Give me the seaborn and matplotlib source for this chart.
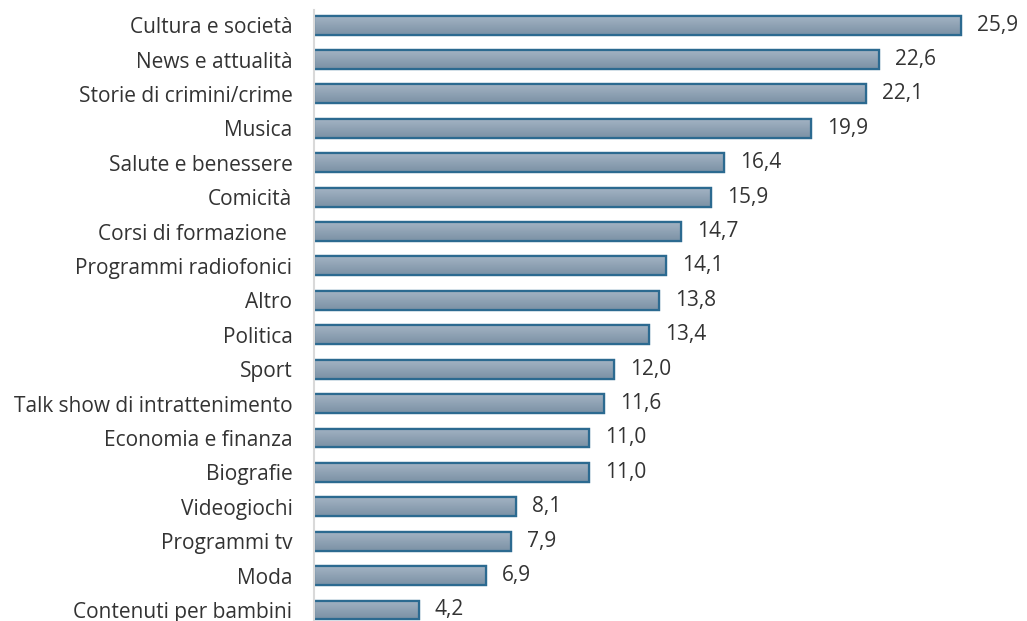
import numpy as np
import pandas as pd
import matplotlib
matplotlib.use("Agg")
import matplotlib.pyplot as plt
import seaborn as sns

categorie = [
    "Cultura e società", "News e attualità", "Storie di crimini/crime", "Musica",
    "Salute e benessere", "Comicità", "Corsi di formazione ", "Programmi radiofonici",
    "Altro", "Politica", "Sport", "Talk show di intrattenimento",
    "Economia e finanza", "Biografie", "Videogiochi", "Programmi tv", "Moda",
    "Contenuti per bambini",
]
valori = [25.9, 22.6, 22.1, 19.9, 16.4, 15.9, 14.7, 14.1, 13.8, 13.4, 12.0, 11.6,
          11.0, 11.0, 8.1, 7.9, 6.9, 4.2]

df = pd.DataFrame({"categoria": categorie, "valore": valori})

sns.set_theme(style="white")
plt.rcParams["font.family"] = ["Open Sans", "DejaVu Sans"]

W, H = 1027, 621
fig = plt.figure(figsize=(W / 100, H / 100), dpi=100)
ax = fig.add_axes([314 / W, 0, (W - 314) / W, (H - 10) / H])

sns.barplot(data=df, x="valore", y="categoria", orient="h", ax=ax,
            width=0.55, color="#8a9fb2", edgecolor="#2c6a90", linewidth=1.6)

XMAX = (W - 314) / 24.98
ax.set_xlim(0, XMAX)
ax.set_ylim(17.32, -0.44)

# vertical gradient inside each bar (lighter at the top, darker at the bottom)
grad = np.linspace(0, 1, 64).reshape(-1, 1)
cmap = matplotlib.colors.LinearSegmentedColormap.from_list(
    "barfill", ["#a3b3c3", "#7b91a5"])
for p in list(ax.patches):
    x0, y0 = p.get_x(), p.get_y()
    w, h = p.get_width(), p.get_height()
    im = ax.imshow(grad, cmap=cmap, aspect="auto",
                   extent=(x0, x0 + w, y0 + h, y0), zorder=p.get_zorder() + 0.1,
                   interpolation="bilinear")
    im.set_clip_path(p)
    edge = matplotlib.patches.Rectangle((x0, y0), w, h, fill=False,
                                        edgecolor="#2c6a90", linewidth=1.6,
                                        zorder=p.get_zorder() + 0.2)
    ax.add_patch(edge)

ax.set_xlim(0, XMAX)
ax.set_ylim(17.32, -0.44)

for i, v in enumerate(valori):
    ax.annotate(f"{v:.1f}".replace(".", ","), xy=(v, i), xytext=(11.5, 0),
                textcoords="offset points", va="center", ha="left",
                fontsize=15, color="#333333")

ax.set_xlabel("")
ax.set_ylabel("")
ax.set_xticks([])
ax.tick_params(axis="y", length=0, pad=15.5, labelsize=15, labelcolor="#333333")
for s in ["top", "right", "bottom"]:
    ax.spines[s].set_visible(False)
ax.spines["left"].set_color("#d9d9d9")
ax.spines["left"].set_linewidth(1.5)

fig.savefig("out.png", dpi=100)
